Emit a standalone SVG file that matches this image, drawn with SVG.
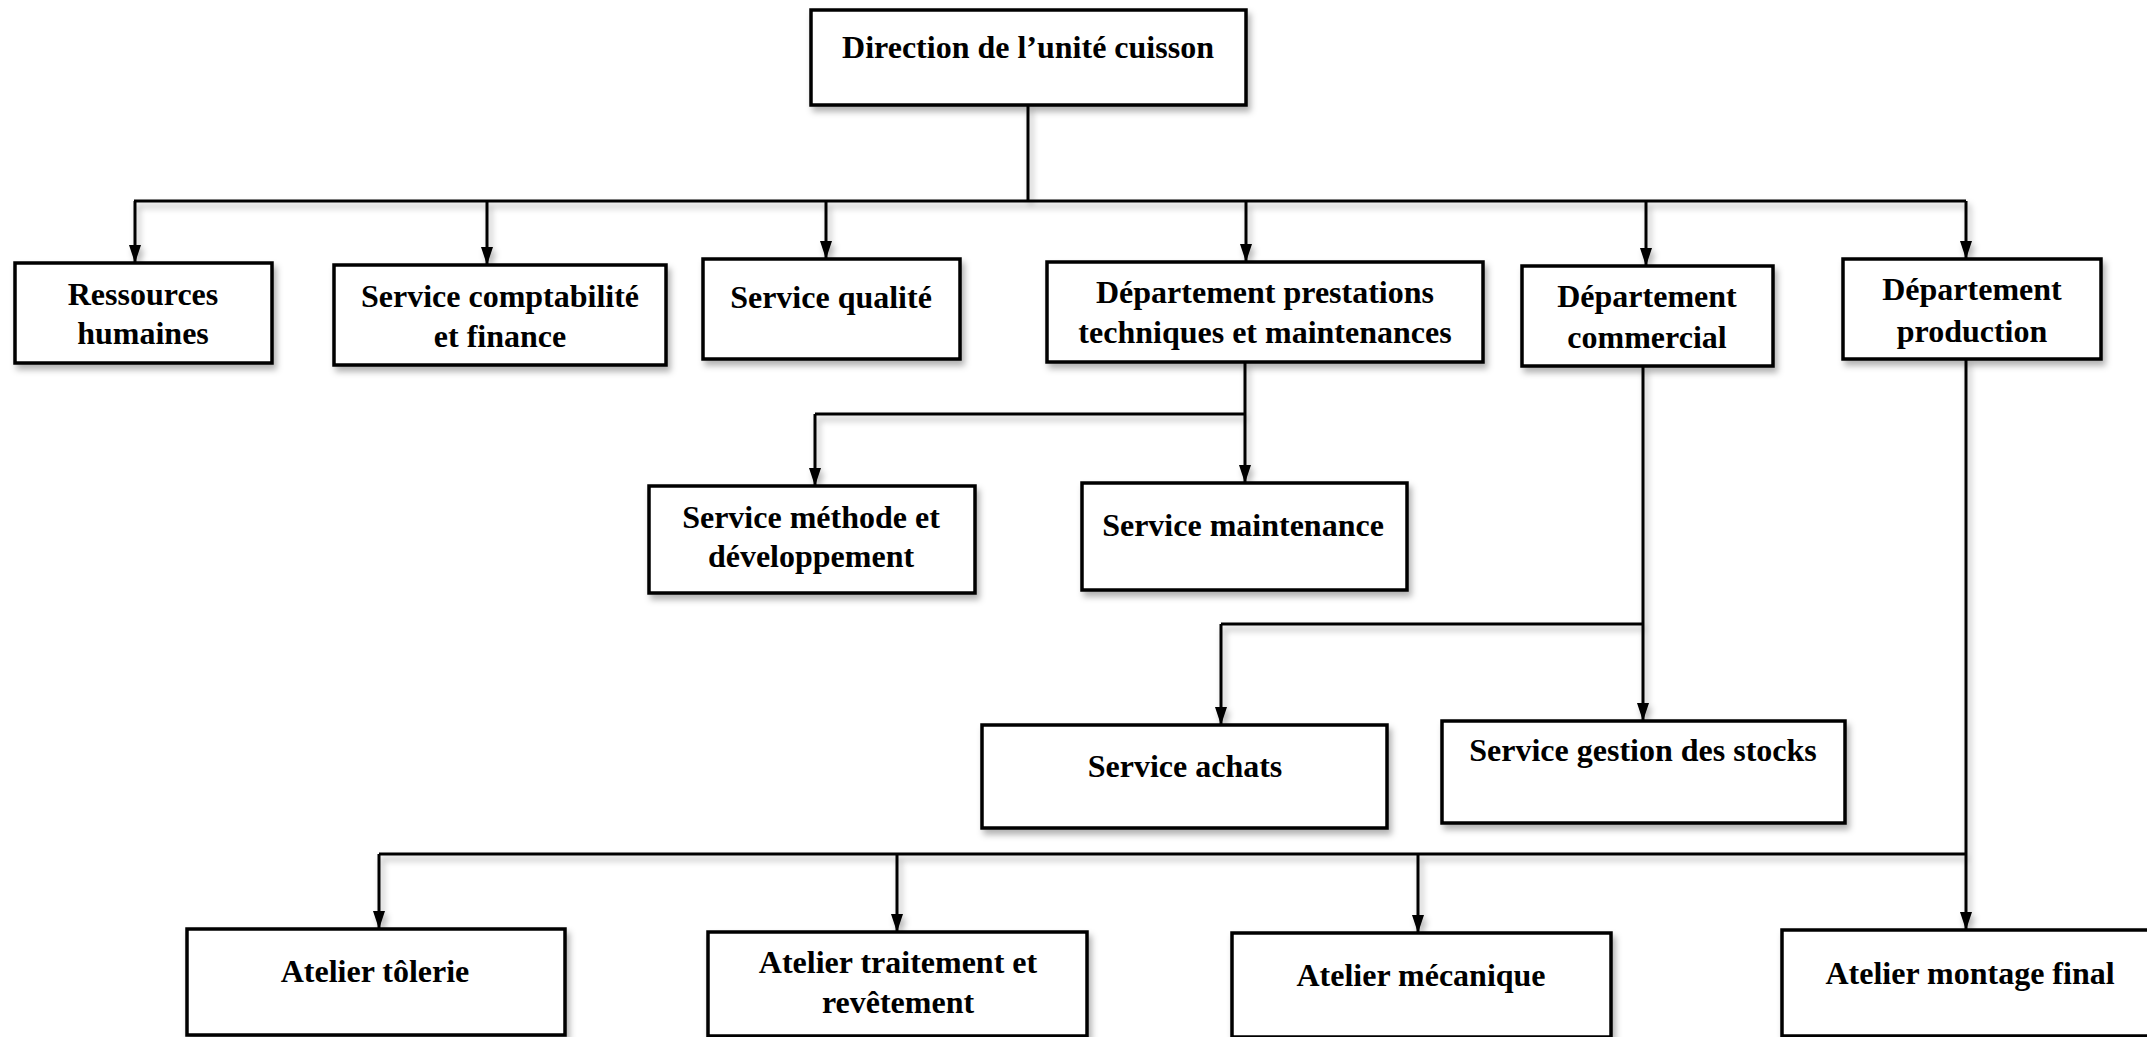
<svg xmlns="http://www.w3.org/2000/svg" width="2147" height="1037" viewBox="0 0 2147 1037">
<style>
.box{fill:#fff;stroke:#000;stroke-width:3.5;filter:url(#sh)}
.t{font-family:"Liberation Serif","Times New Roman",serif;font-weight:bold;font-size:32px;fill:#000;text-anchor:middle}
.c{fill:none;stroke:#000;stroke-width:3}
.a{marker-end:url(#arr)}
</style>
<defs>
<filter id="sh" x="-10%" y="-10%" width="130%" height="140%">
<feDropShadow dx="3" dy="5" stdDeviation="3" flood-color="#000" flood-opacity="0.3"/>
</filter>
<filter id="lsh" filterUnits="userSpaceOnUse" x="0" y="0" width="2147" height="1037">
<feDropShadow dx="3" dy="5" stdDeviation="3" flood-color="#000" flood-opacity="0.3"/>
</filter>
<marker id="arr" markerUnits="userSpaceOnUse" markerWidth="18" markerHeight="12" refX="18" refY="6" orient="auto">
<path d="M0,0 L18,6 L0,12 z" fill="#000"/>
</marker>
</defs>
<g id="connectors" filter="url(#lsh)">
<path class="c" d="M1028,105 V201"/>
<path class="c" d="M134,201 H1966"/>
<path class="c a" d="M135,201 V263"/>
<path class="c a" d="M487,201 V265"/>
<path class="c a" d="M826,201 V259"/>
<path class="c a" d="M1246,201 V262"/>
<path class="c a" d="M1646,201 V266"/>
<path class="c a" d="M1966,201 V259"/>
<path class="c" d="M1245,362 V414"/>
<path class="c" d="M815,414 H1245"/>
<path class="c a" d="M815,414 V486"/>
<path class="c a" d="M1245,414 V483"/>
<path class="c a" d="M1643,366 V721"/>
<path class="c" d="M1221,624 H1643"/>
<path class="c a" d="M1221,624 V725"/>
<path class="c a" d="M1966,359 V930"/>
<path class="c" d="M379,854 H1966"/>
<path class="c a" d="M379,854 V929"/>
<path class="c a" d="M897,854 V932"/>
<path class="c a" d="M1418,854 V933"/>
</g>
<g id="direction"><rect class="box" x="811" y="10" width="435" height="95"/><text class="t" x="1028" y="58">Direction de l’unité cuisson</text></g>
<g id="rh"><rect class="box" x="15" y="263" width="257" height="100"/><text class="t" x="143" y="305">Ressources</text><text class="t" x="143" y="344">humaines</text></g>
<g id="compta"><rect class="box" x="334" y="265" width="332" height="100"/><text class="t" x="500" y="307">Service comptabilité</text><text class="t" x="500" y="347">et finance</text></g>
<g id="qualite"><rect class="box" x="703" y="259" width="257" height="100"/><text class="t" x="831" y="308">Service qualité</text></g>
<g id="dptm"><rect class="box" x="1047" y="262" width="436" height="100"/><text class="t" x="1265" y="303">Département prestations</text><text class="t" x="1265" y="343">techniques et maintenances</text></g>
<g id="commercial"><rect class="box" x="1522" y="266" width="251" height="100"/><text class="t" x="1647" y="307">Département</text><text class="t" x="1647" y="348">commercial</text></g>
<g id="production"><rect class="box" x="1843" y="259" width="258" height="100"/><text class="t" x="1972" y="300">Département</text><text class="t" x="1972" y="342">production</text></g>
<g id="methode"><rect class="box" x="649" y="486" width="326" height="107"/><text class="t" x="811" y="528">Service méthode et</text><text class="t" x="811" y="567">développement</text></g>
<g id="maintenance"><rect class="box" x="1082" y="483" width="325" height="107"/><text class="t" x="1243" y="536">Service maintenance</text></g>
<g id="achats"><rect class="box" x="982" y="725" width="405" height="103"/><text class="t" x="1185" y="777">Service achats</text></g>
<g id="stocks"><rect class="box" x="1442" y="721" width="403" height="102"/><text class="t" x="1643" y="761">Service gestion des stocks</text></g>
<g id="tolerie"><rect class="box" x="187" y="929" width="378" height="106"/><text class="t" x="375" y="982">Atelier tôlerie</text></g>
<g id="traitement"><rect class="box" x="708" y="932" width="379" height="104"/><text class="t" x="898" y="973">Atelier traitement et</text><text class="t" x="898" y="1013">revêtement</text></g>
<g id="mecanique"><rect class="box" x="1232" y="933" width="379" height="104"/><text class="t" x="1421" y="986">Atelier mécanique</text></g>
<g id="montage"><rect class="box" x="1782" y="930" width="368" height="106"/><text class="t" x="1970" y="984">Atelier montage final</text></g>
</svg>
